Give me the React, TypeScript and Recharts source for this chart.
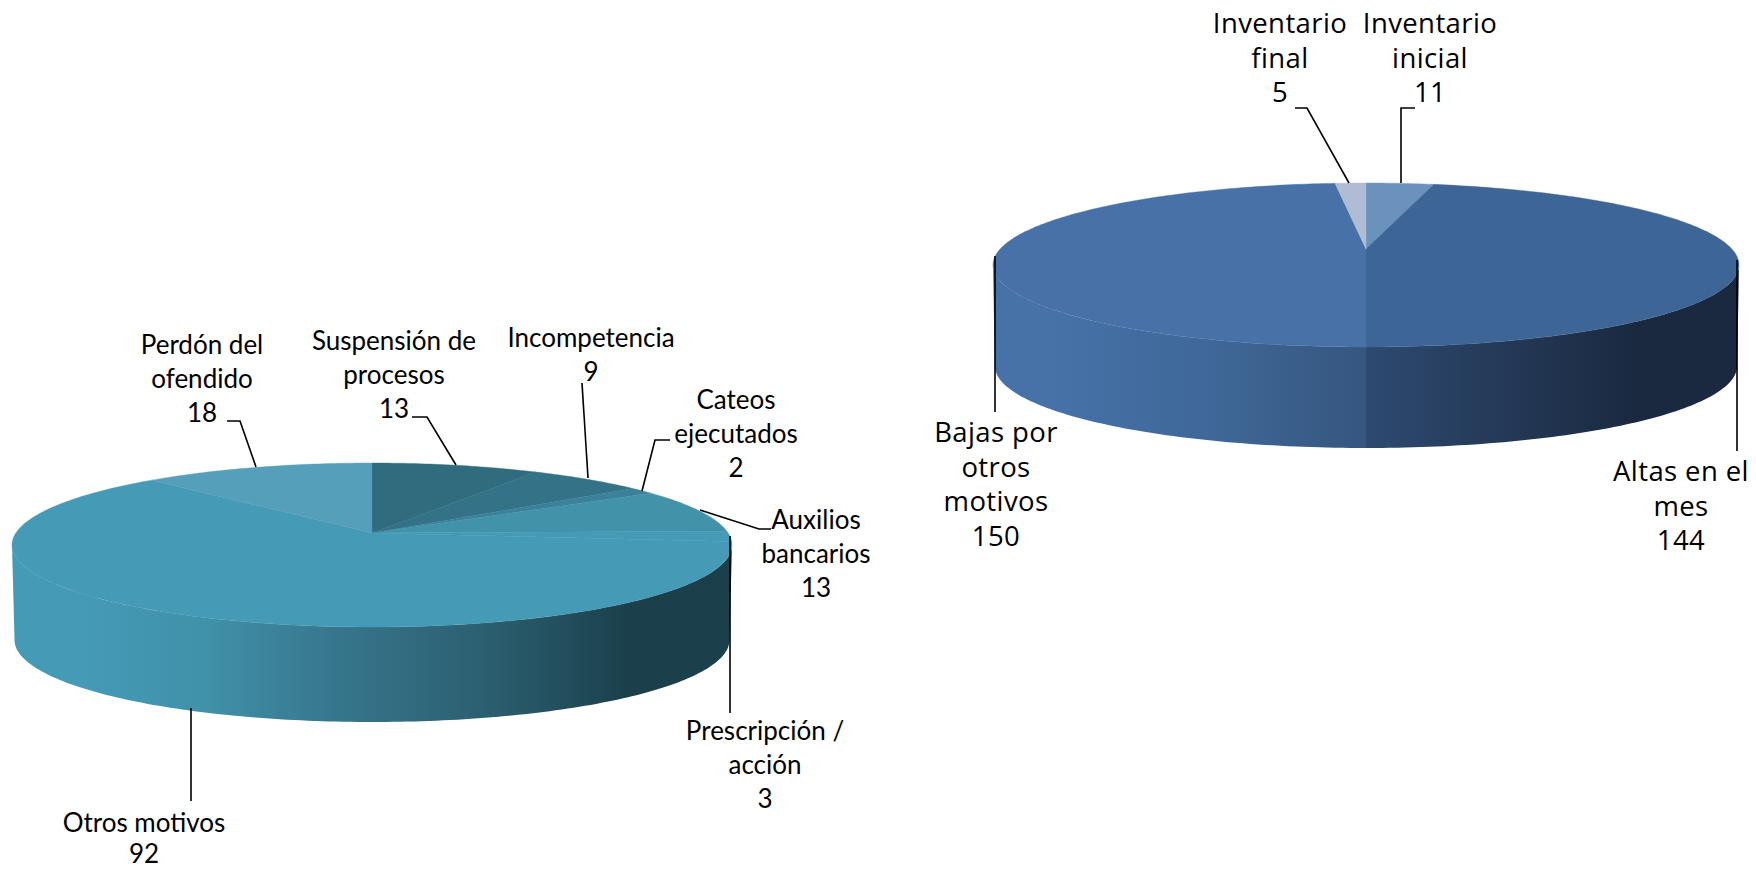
import React from 'react';
import { PieChart, Pie } from 'recharts';

// left pie: closed investigations by reason
const motivoNames = ['Suspensión de procesos', 'Incompetencia', 'Cateos ejecutados', 'Auxilios bancarios', 'Prescripción / acción', 'Otros motivos', 'Perdón del ofendido'];
const motivoValues = [13, 9, 2, 13, 3, 92, 18];
const motivoTops = ['#2f6c7e', '#337287', '#3a8199', '#4292aa', '#459ab6', '#459ab6', '#559fba'];
const motivoWalls = ['url(#wallTeal)', 'url(#wallTeal)', 'url(#wallTeal)', 'url(#wallTeal)', 'url(#wallTeal)', 'url(#wallTeal)', 'url(#wallTeal)'];

// right pie: inventory movements
const inventarioNames = ['Inventario inicial', 'Altas en el mes', 'Bajas por otros motivos', 'Inventario final'];
const inventarioValues = [11, 144, 150, 5];
const inventarioTops = ['#6b92bc', '#3d6596', '#4871a7', '#b0bcd3'];
const inventarioWalls = ['url(#wallBlueRight)', 'url(#wallBlueRight)', 'url(#wallBlueLeft)', 'url(#wallBlueLeft)'];

const buildRows = (names: string[], values: number[], tops: string[], walls: string[]) =>
  names.map((name, i) => ({ name, value: values[i], fill: tops[i], wall: walls[i] }));

const motivoData = buildRows(motivoNames, motivoValues, motivoTops, motivoWalls);
const inventarioData = buildRows(inventarioNames, inventarioValues, inventarioTops, inventarioWalls);

interface Tilt {
  cx: number;
  cy: number;
  rx: number;
  near: number; // apex to front rim
  far: number; // apex to back rim
  depth: number;
  shrink: number;
}

const motivoTilt: Tilt = { cx: 372, cy: 533, rx: 360, near: 94, far: 70, depth: 95, shrink: 0.993 };
const inventarioTilt: Tilt = { cx: 1366, cy: 249, rx: 373, near: 98, far: 66, depth: 101, shrink: 0.995 };

const tiltSkew = (t: Tilt) => (t.near - t.far) / (t.near + t.far);

// where a rim angle lands once the disc is tilted away from the viewer
const rimPoint = (t: Tilt, deg: number) => {
  const k = tiltSkew(t);
  const a = (2 * t.near * t.far) / (t.near + t.far);
  const r = t.rx * Math.sqrt(1 - k * k);
  const rad = (deg * Math.PI) / 180;
  const w = 1 + k * Math.sin(rad);
  return { x: t.cx + (r * Math.cos(rad)) / w, y: t.cy - (a * Math.sin(rad)) / w };
};

const rimSteps = (start: number, end: number) => {
  const count = Math.max(2, Math.ceil(Math.abs(end - start)));
  return Array.from({ length: count + 1 }, (_, i) => start + ((end - start) * i) / count);
};

const topShape = (t: Tilt) => (props: any) => {
  const pts = rimSteps(props.startAngle, props.endAngle).map((d) => rimPoint(t, d));
  const path = `M${t.cx},${t.cy} ` + pts.map((p) => `L${p.x.toFixed(2)},${p.y.toFixed(2)}`).join(' ') + ' Z';
  return <path d={path} fill={props.fill} stroke={props.fill} strokeWidth={0.4} />;
};

// only the front of the rim has a visible wall, between the two silhouette angles
const wallShape = (t: Tilt) => (props: any) => {
  const edge = (Math.asin(tiltSkew(t)) * 180) / Math.PI;
  const from = Math.min(props.startAngle, -edge);
  const to = Math.max(props.endAngle, -180 + edge);
  if (from <= to) return <g />;
  const pts = rimSteps(from, to).map((d) => rimPoint(t, d));
  const upper = pts.map((p) => `${p.x.toFixed(2)},${p.y.toFixed(2)}`);
  const lower = pts
    .slice()
    .reverse()
    .map((p) => `${(t.cx + (p.x - t.cx) * t.shrink).toFixed(2)},${(p.y + t.depth).toFixed(2)}`);
  return <path d={`M${upper.concat(lower).join(' L')} Z`} fill={props.wall} stroke="none" />;
};

interface Callout {
  lines: string[];
  x: number;
  y: number;
  step?: number;
  line: number[][];
}

const LEFT_FONT = 'Lato, sans-serif';
const RIGHT_FONT = '"Open Sans", sans-serif';

const motivoCallouts: Record<string, Callout> = {
  'Perdón del ofendido': { lines: ['Perdón del', 'ofendido'], x: 202, y: 354, line: [[227, 421], [240, 421], [256, 467]] },
  'Suspensión de procesos': { lines: ['Suspensión de', 'procesos'], x: 394, y: 350, line: [[412, 417], [427, 417], [456, 465]] },
  Incompetencia: { lines: ['Incompetencia'], x: 591, y: 347, line: [[582, 383], [588, 478]] },
  'Cateos ejecutados': { lines: ['Cateos', 'ejecutados'], x: 736, y: 409, line: [[670, 440], [655, 440], [642, 491]] },
  'Auxilios bancarios': { lines: ['Auxilios', 'bancarios'], x: 816, y: 529, line: [[771, 529], [759, 529], [700, 510]] },
  'Prescripción / acción': { lines: ['Prescripción /', 'acción'], x: 765, y: 740, line: [[730, 536], [730, 713]] },
  'Otros motivos': { lines: ['Otros motivos'], x: 144, y: 832, step: 31, line: [[191, 708], [191, 801]] },
};

const inventarioCallouts: Record<string, Callout> = {
  'Inventario inicial': { lines: ['Inventario', 'inicial'], x: 1430, y: 33, line: [[1415, 108], [1401, 108], [1401, 183]] },
  'Altas en el mes': { lines: ['Altas en el', 'mes'], x: 1681, y: 481, line: [[1737, 260], [1737, 451]] },
  'Bajas por otros motivos': { lines: ['Bajas por', 'otros', 'motivos'], x: 996, y: 442, line: [[995, 256], [995, 412]] },
  'Inventario final': { lines: ['Inventario', 'final'], x: 1280, y: 33, line: [[1295, 108], [1307, 108], [1349, 183]] },
};

const calloutLabel = (callouts: Record<string, Callout>, font: string, size: number, step: number, spacing: number) => (props: any) => {
  const c = callouts[props.name];
  const gap = c.step ?? step;
  return (
    <text x={c.x} y={c.y} textAnchor="middle" fontFamily={font} fontSize={size} letterSpacing={spacing} fill="#000">
      {c.lines.map((l, i) => (
        <tspan key={i} x={c.x} y={c.y + i * gap}>{l}</tspan>
      ))}
      <tspan x={c.x} y={c.y + c.lines.length * gap}>{props.value}</tspan>
    </text>
  );
};

const calloutLine = (callouts: Record<string, Callout>) => (props: any) => {
  const c = callouts[props.name];
  return <polyline points={c.line.map((p) => p.join(',')).join(' ')} fill="none" stroke="#000" strokeWidth={1.6} />;
};

const pieFrame = (t: Tilt) => ({
  cx: t.cx,
  cy: t.cy,
  innerRadius: 0,
  outerRadius: t.rx,
  startAngle: 90,
  endAngle: -270,
  dataKey: 'value',
  nameKey: 'name',
  stroke: 'none',
  isAnimationActive: false,
});

export default function App() {
  return (
    <div style={{ position: 'absolute', left: 0, top: 0, width: 1756, height: 869, background: '#fff' }}>
      <PieChart width={1756} height={869} margin={{ top: 0, right: 0, bottom: 0, left: 0 }}>
        <defs>
          <linearGradient id="wallTeal" gradientUnits="userSpaceOnUse" x1={11} y1={0} x2={733} y2={0}>
            <stop offset="0.1" stopColor="#459ab6" />
            <stop offset="0.27" stopColor="#4091a9" />
            <stop offset="0.46" stopColor="#36758b" />
            <stop offset="0.66" stopColor="#2b5f70" />
            <stop offset="0.86" stopColor="#1b3f4b" />
          </linearGradient>
          <linearGradient id="wallBlueLeft" gradientUnits="userSpaceOnUse" x1={993} y1={0} x2={1366} y2={0}>
            <stop offset="0.15" stopColor="#4672a8" />
            <stop offset="0.6" stopColor="#3f6797" />
            <stop offset="1" stopColor="#35567f" />
          </linearGradient>
          <linearGradient id="wallBlueRight" gradientUnits="userSpaceOnUse" x1={1366} y1={0} x2={1739} y2={0}>
            <stop offset="0" stopColor="#2e4a70" />
            <stop offset="0.72" stopColor="#1a2940" />
          </linearGradient>
        </defs>
        <Pie {...pieFrame(motivoTilt)} data={motivoData} shape={wallShape(motivoTilt)} />
        <Pie
          {...pieFrame(motivoTilt)}
          data={motivoData}
          shape={topShape(motivoTilt)}
          label={calloutLabel(motivoCallouts, LEFT_FONT, 26, 34, 0)}
          labelLine={calloutLine(motivoCallouts)}
        />
        <Pie {...pieFrame(inventarioTilt)} data={inventarioData} shape={wallShape(inventarioTilt)} />
        <Pie
          {...pieFrame(inventarioTilt)}
          data={inventarioData}
          shape={topShape(inventarioTilt)}
          label={calloutLabel(inventarioCallouts, RIGHT_FONT, 27.5, 34.5, 0.4)}
          labelLine={calloutLine(inventarioCallouts)}
        />
      </PieChart>
    </div>
  );
}
